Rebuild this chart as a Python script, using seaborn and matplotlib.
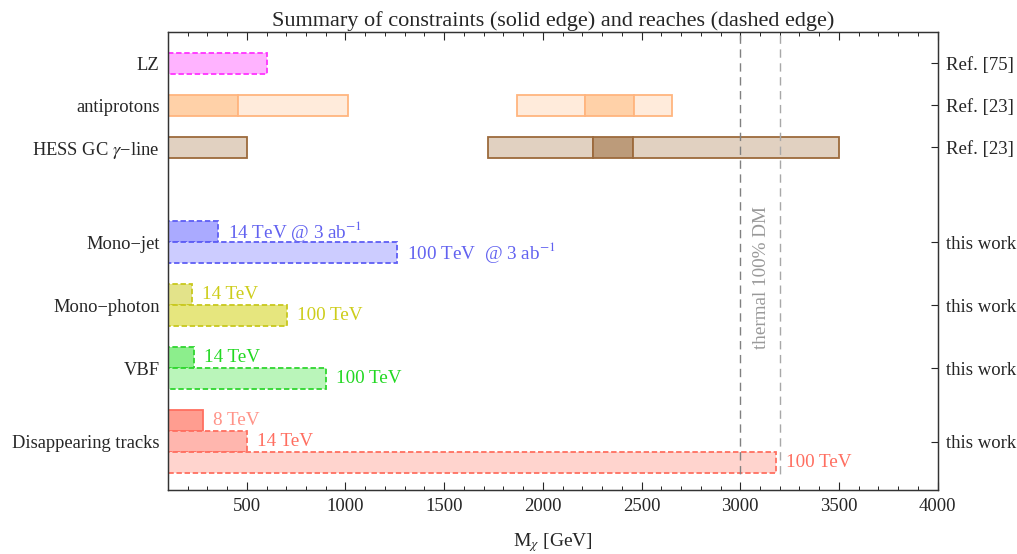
import matplotlib
matplotlib.use("Agg")
import matplotlib.pyplot as plt
from matplotlib.ticker import MultipleLocator
import seaborn as sns
import pandas as pd

# ---- data (masses in GeV) ----
row_labels = ["LZ", "antiprotons", "HESS GC $\\gamma$\u2212line", "Mono\u2212jet",
              "Mono\u2212photon", "VBF", "Disappearing tracks"]
row_refs = ["Ref. [75]", "Ref. [23]", "Ref. [23]", "this work",
            "this work", "this work", "this work"]
row_ticks = [1.5, 3.5, 5.5, 10, 13, 16, 19.5]

# existing constraints / reaches from literature (segments)
lit_row = ["LZ", "antiprotons", "antiprotons", "antiprotons", "antiprotons", "antiprotons",
           "HESS", "HESS", "HESS", "HESS"]
lit_y = [1.5, 3.5, 3.5, 3.5, 3.5, 3.5, 5.5, 5.5, 5.5, 5.5]
lit_lo = [100, 100, 455, 1870, 2212, 2462, 100, 1720, 2252, 2458]
lit_hi = [605, 455, 1015, 2212, 2462, 2655, 500, 2252, 2458, 3500]
lit_fill = ["#FFB3FF", "#FFD1A8", "#FFEBDB", "#FFEBDB", "#FFD1A8", "#FFEBDB",
            "#E1D1C1", "#E1D1C1", "#BC9B7A", "#E1D1C1"]
lit_edge = ["#FF33FF", "#FFB57F", "#FFB57F", "#FFB57F", "#FFB57F", "#FFB57F",
            "#9C6A3C", "#9C6A3C", "#9C6A3C", "#9C6A3C"]
lit_dashed = [True, False, False, False, False, False, False, False, False, False]

# this work
tw_y = [9.5, 10.5, 12.5, 13.5, 15.5, 16.5, 18.5, 19.5, 20.5]
tw_hi = [355, 1262, 222, 705, 232, 903, 278, 503, 3182]
tw_text = ["14 TeV @ 3 ab$^{-1}$", "100 TeV  @ 3 ab$^{-1}$", "14 TeV", "100 TeV",
           "14 TeV", "100 TeV", "8 TeV", "14 TeV", "100 TeV"]
tw_fill = ["#AAAAFF", "#CCCCFF", "#E3E38A", "#E6E67E", "#8CEE8C", "#BAF5BA",
           "#FF9D90", "#FFB6AE", "#FFD4CE"]
tw_edge = ["#5E5EF5", "#5E5EF5", "#C8C81E", "#C8C81E", "#2FD62F", "#2FD62F",
           "#FF6F60", "#FF6F60", "#FF6F60"]
tw_textcol = ["#6262F0", "#6262F0", "#CDCD1A", "#CDCD1A", "#22D822", "#22D822",
              "#FF9388", "#FF6E60", "#FF6E60"]
tw_dashed = [True, True, True, True, True, True, False, True, True]

thermal_mass = [3000, 3200]
thermal_col = ["#808080", "#A8A8A8"]

lit = pd.DataFrame(dict(row=lit_row, y=lit_y, lo=lit_lo, hi=lit_hi,
                        fill=lit_fill, edge=lit_edge, dashed=lit_dashed))
tw = pd.DataFrame(dict(y=tw_y, hi=tw_hi, text=tw_text, fill=tw_fill, edge=tw_edge,
                       tcol=tw_textcol, dashed=tw_dashed))

sns.set_theme(style="ticks")
plt.rcParams["font.family"] = ["Liberation Serif", "DejaVu Serif"]
plt.rcParams["mathtext.fontset"] = "stix"

fig = plt.figure(figsize=(10.17, 5.54), dpi=100)
ax = fig.add_axes([0.165, 0.1155, 0.757, 0.827])

bar_h = 1.0
for _, r in lit.iterrows():
    ax.barh(r.y, r.hi - r.lo, left=r.lo, height=bar_h, color=r.fill,
            edgecolor=r.edge, linewidth=1.3,
            linestyle=(0, (3, 1.5)) if r.dashed else "-", zorder=2)

for _, r in tw.iterrows():
    ax.barh(r.y, r.hi - 0, left=0, height=bar_h, color=r.fill,
            edgecolor=r.edge, linewidth=1.3,
            linestyle=(0, (3, 1.5)) if r.dashed else "-", zorder=2)
    ax.annotate(r.text, (r.hi, r.y), xytext=(7, 0), textcoords="offset points",
                va="center", ha="left", color=r.tcol, fontsize=13.8)

for m, c in zip(thermal_mass, thermal_col):
    ax.vlines(m, 0.15, 21.1, colors=c, linestyles=(0, (6, 4)), linewidth=1.0, zorder=3)
ax.text(3110, 11.7, "thermal 100% DM", rotation=90, ha="center", va="center",
        color="#999999", fontsize=13.8)

ax.set_xlim(100, 4000)
ax.set_ylim(21.8, 0)
ax.xaxis.set_major_locator(MultipleLocator(500))
ax.xaxis.set_minor_locator(MultipleLocator(100))
ax.set_xticks([500, 1000, 1500, 2000, 2500, 3000, 3500, 4000])
ax.tick_params(axis="x", which="major", direction="in", length=6, top=True,
               labelsize=13.5, pad=6, width=0.8)
ax.tick_params(axis="x", which="minor", direction="in", length=3, top=True, width=0.7)
ax.set_yticks(row_ticks)
ax.set_yticklabels(row_labels)
ax.tick_params(axis="y", direction="in", length=5, labelsize=13.3, pad=6, width=0.8)
ax.set_xlabel("M$_\\chi$ [GeV]", fontsize=14, labelpad=11)
ax.set_title("Summary of constraints (solid edge) and reaches (dashed edge)",
             fontsize=16, pad=4)
for s in ax.spines.values():
    s.set_linewidth(0.9)
    s.set_color("#333333")

ax2 = ax.twinx()
ax2.set_ylim(ax.get_ylim())
ax2.set_yticks(row_ticks)
ax2.set_yticklabels(row_refs)
ax2.tick_params(axis="y", direction="in", length=5, labelsize=13.5, pad=6, width=0.8)
for s in ax2.spines.values():
    s.set_linewidth(0.9)
    s.set_color("#333333")

fig.savefig("out.png", dpi=100)
